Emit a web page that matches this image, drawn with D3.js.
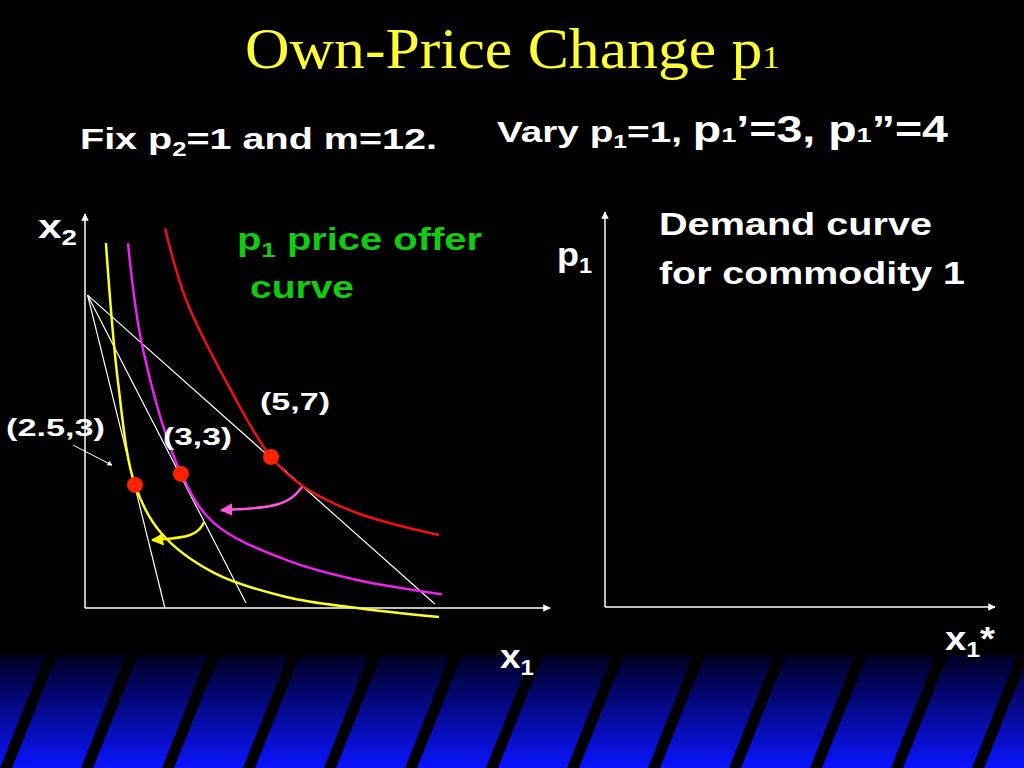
<!DOCTYPE html>
<html><head><meta charset="utf-8">
<script src="https://cdn.jsdelivr.net/npm/d3@7"></script>
<style>body{margin:0;background:#000}svg{display:block}</style>
</head><body>
<script>
// data, in the chart's (schematic) units
let apex = [0.09, 11.06];
let budgetEnds = [[12.04, 0.14], [5.54, 0.18], [2.75, 0]];
let redCurve = [[2.75,13.43],[3.48,10.89],[4.96,7.81],[6.40,5.34],[7.54,4.28],[9.36,3.36],[12.18,2.58]];
let magentaCurve = [[1.48,12.90],[2.00,9.12],[3.30,4.77],[4.44,3.00],[6.92,1.70],[9.36,0.99],[12.28,0.49]];
let yellowCurve = [[0.72,12.90],[1.14,7.95],[1.72,4.35],[2.62,2.65],[4.44,1.24],[6.92,0.39],[9.36,0],[12.18,-0.32]];
let optima = [[1.72,4.35],[3.30,4.74],[6.40,5.34]];
let magentaArrow = [[7.47,4.28],[6.92,3.57],[4.68,3.46]];
let yellowArrow = [[4.10,3.04],[3.82,2.51],[2.31,2.40]];
let pointLabels = [["(5,7)",260,410,70],["(2.5,3)",6,436,99],["(3,3)",163,445,69]];

let svg = d3.select("body").append("svg").attr("width",1024).attr("height",768);
let defs = svg.append("defs");
let grad = defs.append("linearGradient").attr("id","band").attr("x1",0).attr("y1",0).attr("x2",0).attr("y2",1);
grad.append("stop").attr("offset","0%").attr("stop-color","#000020");
grad.append("stop").attr("offset","100%").attr("stop-color","#0a14ff");
["white","#ff55dd","#ffff00"].forEach((c,i) => {
  defs.append("marker").attr("id","ah"+i).attr("viewBox","0 0 10 10").attr("refX",9).attr("refY",5)
    .attr("markerWidth",5).attr("markerHeight",5).attr("orient","auto")
    .append("path").attr("d","M0,0L10,5L0,10z").attr("fill",c);
});

// bottom striped band
svg.append("rect").attr("x",0).attr("y",655).attr("width",1024).attr("height",113).attr("fill","url(#band)");
d3.range(-2, 14).forEach(i => {
  let x0 = i*81;
  svg.append("path").attr("d",`M${x0+45},655L${x0+57},655L${x0+12},768L${x0},768Z`).attr("fill","#000");
});

let x = d3.scaleLinear().domain([0,16]).range([85,550]);
let y = d3.scaleLinear().domain([0,14]).range([608,212]);

// axes
svg.append("line").attr("x1",85).attr("y1",608).attr("x2",85).attr("y2",214).attr("stroke","white").attr("stroke-width",1.5).attr("marker-end","url(#ah0)");
svg.append("line").attr("x1",85).attr("y1",608).attr("x2",550).attr("y2",608).attr("stroke","white").attr("stroke-width",1.5).attr("marker-end","url(#ah0)");
svg.append("line").attr("x1",605).attr("y1",607).attr("x2",605).attr("y2",212).attr("stroke","white").attr("stroke-width",1.5).attr("marker-end","url(#ah0)");
svg.append("line").attr("x1",605).attr("y1",607).attr("x2",995).attr("y2",607).attr("stroke","white").attr("stroke-width",1.5).attr("marker-end","url(#ah0)");

// budget lines
svg.selectAll(".budget").data(budgetEnds).join("line")
  .attr("x1",x(apex[0])).attr("y1",y(apex[1])).attr("x2",d=>x(d[0])).attr("y2",d=>y(d[1]))
  .attr("stroke","white").attr("stroke-width",1.2);

let line = d3.line().x(d=>x(d[0])).y(d=>y(d[1])).curve(d3.curveCatmullRom);
[[redCurve,"#ee1111"],[magentaCurve,"#ee22ee"],[yellowCurve,"#ffff22"]].forEach(([d,c]) => {
  svg.append("path").attr("d",line(d)).attr("fill","none").attr("stroke",c).attr("stroke-width",2.5);
});

let arc = d3.line().x(d=>x(d[0])).y(d=>y(d[1])).curve(d3.curveBasis);
svg.append("path").attr("d",arc(magentaArrow)).attr("fill","none").attr("stroke","#ff55dd").attr("stroke-width",2.5).attr("marker-end","url(#ah1)");
svg.append("path").attr("d",arc(yellowArrow)).attr("fill","none").attr("stroke","#ffff00").attr("stroke-width",2.5).attr("marker-end","url(#ah2)");
svg.append("line").attr("x1",x(-0.41)).attr("y1",y(5.76)).attr("x2",x(0.93)).attr("y2",y(5.05)).attr("stroke","white").attr("stroke-width",1).attr("marker-end","url(#ah0)");

svg.selectAll(".dot").data(optima).join("circle")
  .attr("cx",d=>x(d[0])).attr("cy",d=>y(d[1])).attr("r",8).attr("fill","#ff2200");

// text
let sans = "Liberation Sans, Arial, sans-serif";
let title = svg.append("text").attr("x",245).attr("y",68)
  .attr("textLength",535).attr("lengthAdjust","spacingAndGlyphs")
  .attr("font-family","Liberation Serif, Times New Roman, serif").attr("font-size",56).attr("fill","#ffff33");
title.append("tspan").text("Own-Price Change p");
title.append("tspan").attr("font-size",32).text("1");

function sub(sel, parts) {
  parts.forEach(p => {
    let t = sel.append("tspan").text(p[0]);
    if (p[1]==="sub") t.attr("font-size","0.65em").attr("dy",7);
    if (p[1]==="up") t.attr("dy",-7);
  });
  return sel;
}
function txt(xp, yp, size, color, w) {
  return svg.append("text").attr("x",xp).attr("y",yp).attr("font-family",sans).attr("font-weight","bold")
    .attr("font-size",size).attr("fill",color)
    .attr("textLength",w).attr("lengthAdjust","spacingAndGlyphs");
}
sub(txt(80,149,30,"white",357), [["Fix p"],["2","sub"],["=1 and m=12.","up"]]);
let vary = txt(497,142,30,"white",451);
vary.append("tspan").text("Vary p");
vary.append("tspan").attr("font-size",19).attr("dy",6).text("1");
vary.append("tspan").attr("dy",-6).text("=1, ");
vary.append("tspan").attr("font-size",36).text("p");
vary.append("tspan").attr("font-size",21).text("1");
vary.append("tspan").attr("font-size",36).text("’=3, p");
vary.append("tspan").attr("font-size",21).text("1");
vary.append("tspan").attr("font-size",36).text("”=4");

sub(txt(38,238,34,"white",39), [["x"],["2","sub"]]);
sub(txt(557,266,34,"white",35), [["p"],["1","sub"]]);
txt(659,235,32,"white",273).text("Demand curve");
txt(659,284,32,"white",306).text("for commodity 1");
sub(txt(237,250,32,"#11cc11",245), [["p"],["1","sub"],[" price offer","up"]]);
txt(250,298,32,"#11cc11",104).text("curve");
sub(txt(500,668,34,"white",34), [["x"],["1","sub"]]);
sub(txt(945,650,34,"white",50), [["x"],["1","sub"],["*","up"]]);
pointLabels.forEach(d => txt(d[1],d[2],24,"white",d[3]).text(d[0]));
</script>
</body></html>
